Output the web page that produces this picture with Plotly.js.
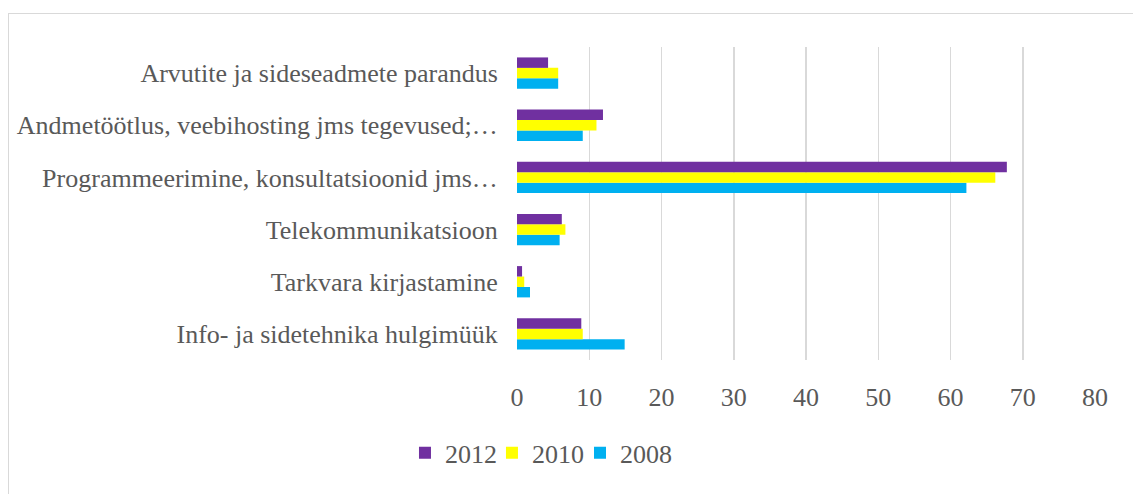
<!DOCTYPE html>
<html>
<head>
<meta charset="utf-8">
<script src="https://cdn.plot.ly/plotly-3.0.1.min.js"></script>
<style>
html,body{margin:0;padding:0;width:1133px;height:494px;overflow:hidden;background:#fff;}
#frame{position:absolute;left:8px;top:13px;width:1300px;height:700px;border:1.5px solid #d9d9d9;box-sizing:border-box;}
#chart{position:absolute;left:0;top:0;width:1133px;height:494px;}
</style>
</head>
<body>
<div id="frame"></div>
<div id="chart"></div>
<script>
// Categories, top to bottom as shown
const categories = [
  "Arvutite ja sideseadmete parandus",
  "Andmetöötlus, veebihosting jms tegevused;…",
  "Programmeerimine, konsultatsioonid jms…",
  "Telekommunikatsioon",
  "Tarkvara kirjastamine",
  "Info- ja sidetehnika hulgimüük"
];
const values2012 = [4.3, 11.9, 67.8, 6.2, 0.7, 8.9];
const values2010 = [5.7, 11.0, 66.2, 6.7, 1.0, 9.1];
const values2008 = [5.7, 9.1, 62.2, 5.9, 1.8, 14.9];
const seriesNames = ["2012", "2010", "2008"];
const xTicks = [0, 10, 20, 30, 40, 50, 60, 70, 80];

const colors = {"2012": "#7030A0", "2010": "#FFFF00", "2008": "#00B0F0"};
const legendIds = {"2012": "legend", "2010": "legend2", "2008": "legend3"};
const catOrder = categories.slice().reverse();
const FONT = "Times New Roman, Liberation Serif, serif";
const FS = 26;

function tr(name, vals) {
  return {
    type: "bar", orientation: "h", name: name,
    y: categories, x: vals,
    marker: {color: colors[name]},
    legend: legendIds[name],
    hoverinfo: "x+y+name"
  };
}

const data = [tr("2008", values2008), tr("2010", values2010), tr("2012", values2012)];

function leg(x) {
  return {
    orientation: "h", x: x, xanchor: "left", y: -0.297, yanchor: "middle",
    font: {family: FONT, size: FS, color: "#595959"},
    bgcolor: "rgba(0,0,0,0)", itemwidth: 30
  };
}

const layout = {
  width: 1133, height: 494,
  margin: {l: 517, r: 38, t: 47, b: 134},
  paper_bgcolor: "rgba(0,0,0,0)",
  plot_bgcolor: "rgba(0,0,0,0)",
  barmode: "group",
  bargap: 0.4,
  bargroupgap: 0,
  font: {family: FONT, size: FS, color: "#595959"},
  xaxis: {
    range: [0, 80], tickvals: xTicks, ticktext: xTicks.map(String),
    showgrid: true, gridcolor: "#d9d9d9", gridwidth: 1.5,
    zeroline: false, showline: false,
    ticks: "outside", ticklen: 14, tickcolor: "rgba(0,0,0,0)",
    tickfont: {family: FONT, size: FS, color: "#595959"}, fixedrange: true
  },
  yaxis: {
    type: "category", categoryorder: "array", categoryarray: catOrder,
    showgrid: false, zeroline: false, showline: false,
    ticks: "outside", ticklen: 13, tickcolor: "rgba(0,0,0,0)",
    tickfont: {family: FONT, size: FS, color: "#595959"}, fixedrange: true
  },
  showlegend: true,
  legend: leg(-0.1938),
  legend2: leg(-0.0433),
  legend3: leg(0.109)
};

Plotly.newPlot("chart", data, layout, {displayModeBar: false, staticPlot: true});
</script>
</body>
</html>
